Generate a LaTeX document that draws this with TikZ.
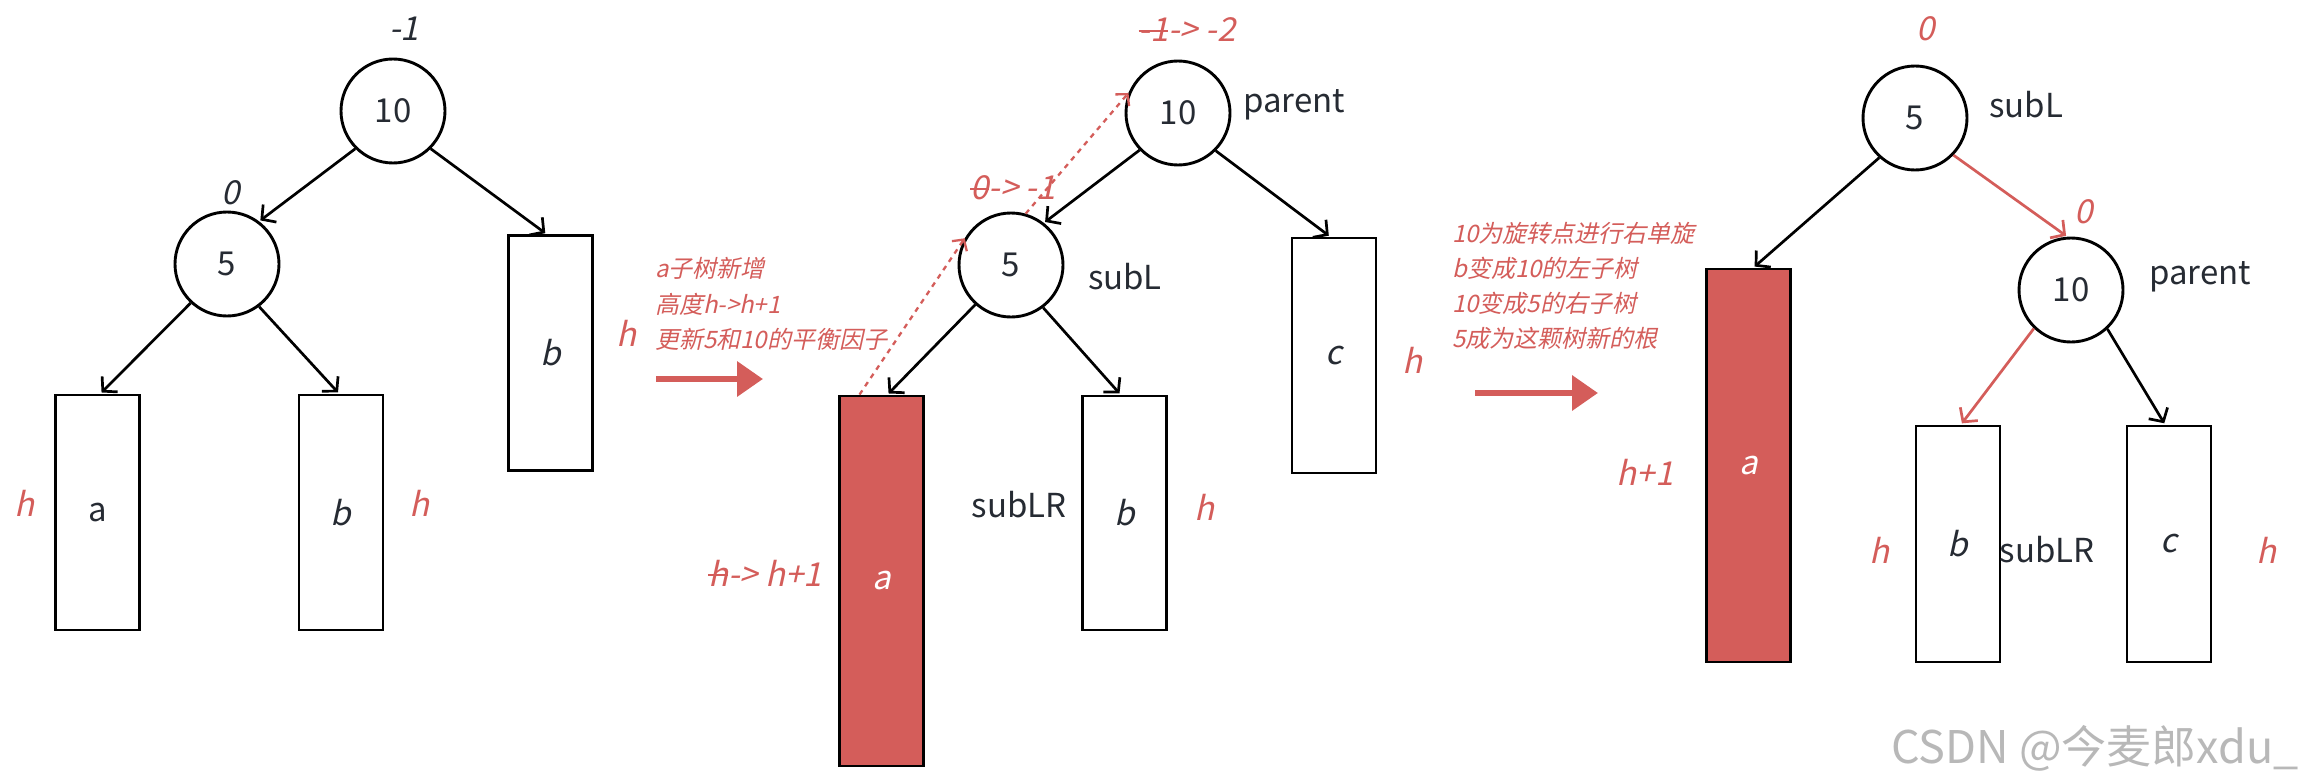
\documentclass[tikz,border=0pt]{standalone}
\usepackage{fontspec}
\setmainfont{Noto Sans CJK SC}
\newfontfamily\itf[FakeSlant=0.22]{Noto Sans CJK SC}
\newcommand\strk[1]{\setbox0\hbox{#1}\rlap{\rule[0.3em]{\wd0}{2pt}}\box0}
\usetikzlibrary{arrows.meta}
\definecolor{myred}{RGB}{212,93,90}
\definecolor{ink}{RGB}{38,43,51}
\begin{document}
\begin{tikzpicture}[x=1pt,y=-1pt,
  circ/.style={circle, draw=black, line width=2.9pt, minimum size=104pt, inner sep=0pt, font=\fontsize{33}{36}\selectfont, text=ink},
  box/.style={draw=black, line width=2.9pt, minimum width=84pt, inner sep=0pt, font=\itf\fontsize{33}{36}\selectfont, text=ink},
  redbox/.style={box, fill=myred, text=white},
  lab/.style={font=\fontsize{33}{36}\selectfont, text=ink, inner sep=0pt},
  itlab/.style={font=\itf\fontsize{33}{36}\selectfont, text=ink, inner sep=0pt},
  rlab/.style={font=\itf\fontsize{33}{36}\selectfont, text=myred, inner sep=0pt},
  note/.style={font=\itf\fontsize{24}{30}\selectfont, text=myred, inner sep=0pt, anchor=west},
  edge/.style={draw=black, line width=2.7pt, shorten >=1.5pt, -{Straight Barb[length=10pt,width=22pt]}},
  redge/.style={edge, draw=myred},
  dotedge/.style={draw=myred, line width=2.3pt, dash pattern=on 5pt off 5pt, -{Straight Barb[length=8pt,width=18pt]}},
  bigarrow/.style={draw=myred, line width=6.5pt, -{Triangle[length=26pt,width=34pt]}},
]
\fill[white] (0,0) rectangle (2302,781);
\useasboundingbox (0,0) rectangle (2302,781);

% ---------- panel 1 ----------
\node[circ] (p1c10) at (393,111) {10};
\node[circ] (p1c5) at (227,264) {5};
\node[box, minimum height=235pt] (p1rb) at (550.5,353) {b};
\node[box, minimum height=235pt, font=\fontsize{33}{36}\selectfont] (p1ra) at (97.5,512.5) {a};
\node[box, minimum height=235pt] (p1rb2) at (341,512.5) {b};
\node[itlab] (p1bf10) at (404,29) {-1};
\node[itlab] (p1bf5) at (231,193) {0};
\node[rlab] (p1h1) at (25,503) {h};
\node[rlab] (p1h2) at (420,503) {h};
\node[rlab] (p1h3) at (627,333) {h};
\draw[edge] (p1c10.225) -- (p1c5.53);
\draw[edge] (p1c10.-45) -- ([xshift=-4pt]p1rb.north);
\draw[edge] (p1c5.-133) -- ([xshift=3pt]p1ra.north);
\draw[edge] (p1c5.-53) -- ([xshift=-2pt]p1rb2.north);

% ---------- transition 1 ----------
\node[note] (n1a) at (655,268) {a子树新增};
\node[note] (n1b) at (655,304) {高度h->h+1};
\node[note] (n1c) at (655,339) {更新5和10的平衡因子};
\coordinate (a1s) at (656,379);
\coordinate (a1e) at (763,379);
\draw[bigarrow] (a1s) -- (a1e);

% ---------- panel 2 ----------
\node[circ] (p2c10) at (1178,113) {10};
\node[circ] (p2c5) at (1011,265) {5};
\node[redbox, minimum height=370pt] (p2ra) at (881.5,581) {a};
\node[box, minimum height=234pt] (p2rb) at (1124.5,513) {b};
\node[box, minimum height=235pt] (p2rc) at (1334,355.5) {c};
\node[lab, anchor=west] (p2par) at (1243,105) {parent};
\node[lab] (p2subl) at (1125,277) {subL};
\node[lab] (p2sublr) at (1019,505) {subLR};
\node[rlab] (p2bf10) at (1187,30) {\strk{-1}-> -2};
\node[rlab] (p2bf5) at (1013,188) {\strk{0}-> -1};
\node[rlab] (p2ha) at (765,573) {\strk{h}-> h+1};
\node[rlab] (p2hb) at (1205,507) {h};
\node[rlab] (p2hc) at (1412,360) {h};
\draw[edge] (p2c10.224) -- (p2c5.52);
\draw[edge] (p2c10.-45) -- ([xshift=-4pt]p2rc.north);
\draw[edge] (p2c5.-132) -- ([xshift=6pt]p2ra.north);
\draw[edge] (p2c5.-53) -- ([xshift=-4pt]p2rb.north);
\draw[dotedge] ([xshift=-22pt]p2ra.north) -- (p2c5.150);
\draw[dotedge] (p2c5.74) -- (p2c10.158);

% ---------- transition 2 ----------
\node[note] (n2a) at (1452,233) {10为旋转点进行右单旋};
\node[note] (n2b) at (1452,268) {b变成10的左子树};
\node[note] (n2c) at (1452,303) {10变成5的右子树};
\node[note] (n2d) at (1452,338) {5成为这颗树新的根};
\coordinate (a2s) at (1475,393);
\coordinate (a2e) at (1598,393);
\draw[bigarrow] (a2s) -- (a2e);

% ---------- panel 3 ----------
\node[circ] (p3c5) at (1915,118) {5};
\node[circ] (p3c10) at (2071,290) {10};
\node[redbox, minimum height=393pt] (p3ra) at (1748.5,465.5) {a};
\node[box, minimum height=236pt] (p3rb) at (1958,544) {b};
\node[box, minimum height=236pt] (p3rc) at (2169,544) {c};
\node[lab] (p3subl) at (2026,105) {subL};
\node[lab] (p3par) at (2200,277) {parent};
\node[lab] (p3sublr) at (2047,550) {subLR};
\node[rlab] (p3bf5) at (1926,29) {0};
\node[rlab] (p3bf10) at (2084,212) {0};
\node[rlab] (p3ha) at (1645,472) {h+1};
\node[rlab] (p3hb) at (1879,550) {h};
\node[rlab] (p3hc) at (2266,550) {h};
\draw[edge] (p3c5.-132) -- ([xshift=5pt]p3ra.north);
\draw[redge] (p3c5.-44) -- (p3c10.94);
\draw[redge] (p3c10.-134) -- ([xshift=3pt]p3rb.north);
\draw[edge] (p3c10.-47) -- ([xshift=-4pt]p3rc.north);

% watermark
\node[font=\fontsize{45}{50}\selectfont, text=black!28, anchor=east, inner sep=0pt] (wm) at (2299,748) {CSDN @今麦郎xdu\_};
\end{tikzpicture}
\end{document}
